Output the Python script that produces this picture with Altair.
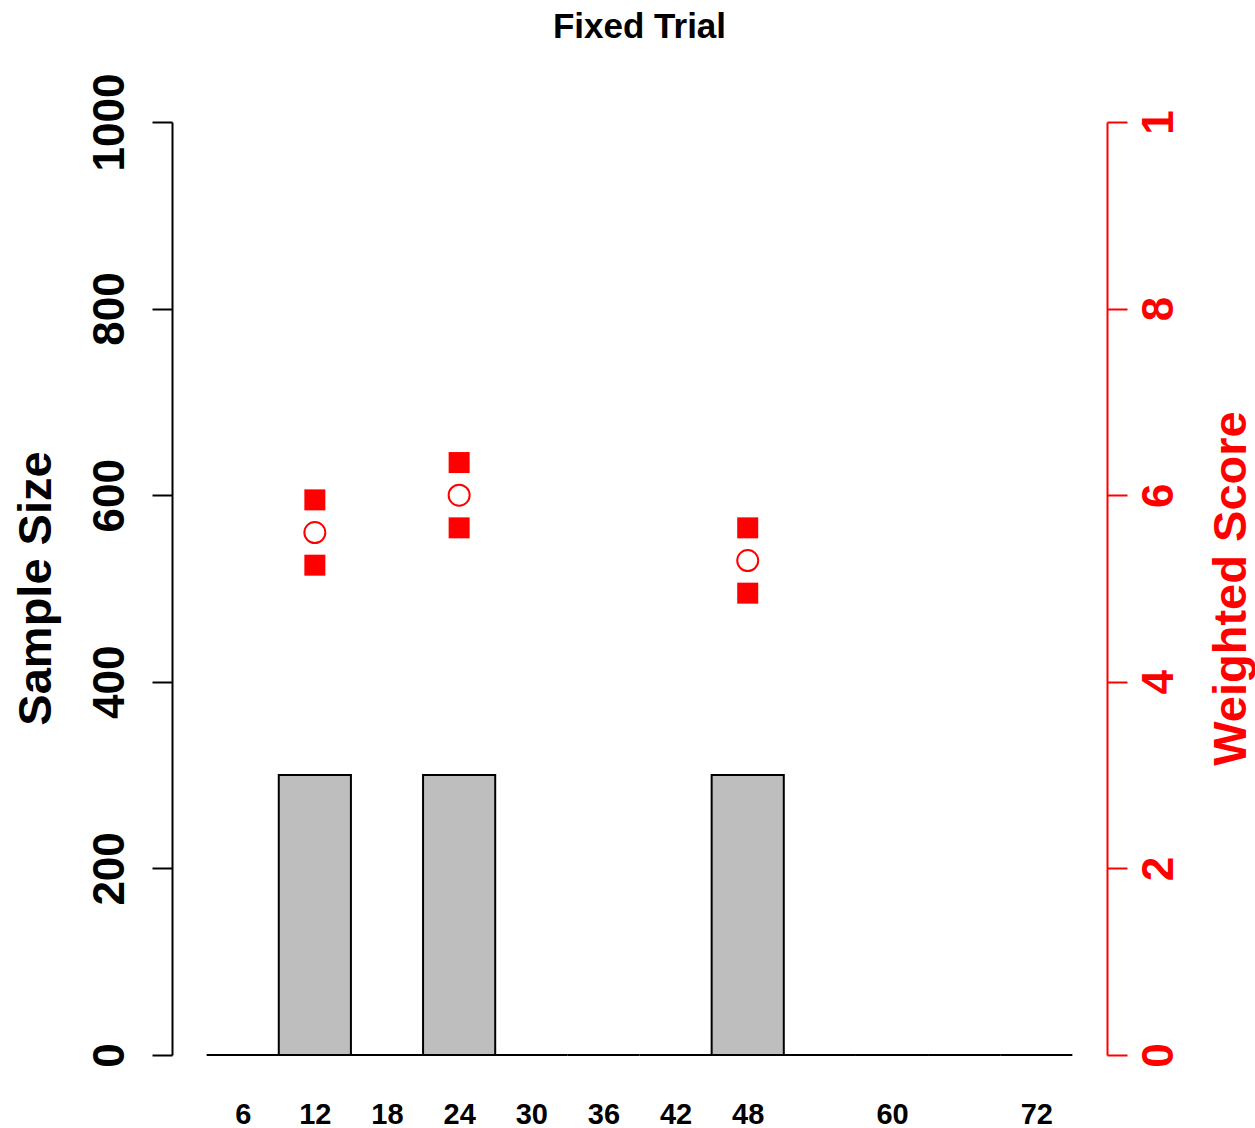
import altair as alt
import pandas as pd

# ---- data ----
months = [6, 12, 18, 24, 30, 36, 42, 48, 54, 60, 66, 72]
sample_size = [0, 300, 0, 300, 0, 0, 0, 300, 0, 0, 0, 0]
x_tick_values = [6, 12, 18, 24, 30, 36, 42, 48, 60, 72]

score_months = [12, 24, 48]
score_mean = [5.6, 6.0, 5.3]
score_lower = [5.25, 5.65, 4.95]
score_upper = [5.95, 6.35, 5.65]

left_ticks = [0, 200, 400, 600, 800, 1000]
right_ticks = [0, 2, 4, 6, 8, 10]
right_tick_labels = ["0", "2", "4", "6", "8", "1"]

FONT = "Liberation Sans"
RED = "#ff0000"

bars_df = pd.DataFrame({"month": months, "n": sample_size})
means_df = pd.DataFrame({"month": score_months, "score": score_mean})
bounds_df = pd.DataFrame({
    "month": score_months + score_months,
    "score": score_lower + score_upper,
})

half = (months[1] - months[0]) / 2
span = (months[-1] + half) - (months[0] - half)
x_domain = [months[0] - half - 0.04 * span, months[-1] + half + 0.04 * span]

x_scale = alt.Scale(domain=x_domain, nice=False, zero=False)
x_axis = alt.Axis(
    values=x_tick_values, format="d", title=None, grid=False, domain=False,
    ticks=False, tickSize=0, labelPadding=68, labelBaseline="alphabetic",
    labelFont=FONT, labelFontSize=29, labelFontWeight="bold", labelColor="black",
)

bars = alt.Chart(bars_df).transform_calculate(
    x1=f"datum.month - {half}", x2=f"datum.month + {half}"
).mark_rect(fill="#bebebe", stroke="black", strokeWidth=2).encode(
    x=alt.X("x1:Q", scale=x_scale, axis=x_axis),
    x2="x2:Q",
    y=alt.Y(
        "n:Q",
        scale=alt.Scale(domain=[0, 1000], nice=False),
        axis=alt.Axis(
            values=left_ticks, format="d", title="Sample Size", grid=False,
            tickSize=20, tickWidth=2, tickColor="black",
            domainWidth=2, domainColor="black",
            labelAngle=270, labelAlign="center", labelBaseline="alphabetic",
            labelPadding=29, labelFont=FONT, labelFontSize=44,
            labelFontWeight="bold", labelColor="black",
            titleFont=FONT, titleFontSize=47, titleFontWeight="bold",
            titleColor="black", titleAngle=270, titleAlign="center",
            titleBaseline="alphabetic", titleX=-122, titleY=466,
        ),
    ),
    y2=alt.datum(0),
)

label_expr = " : ".join(
    [f"datum.value == {v} ? '{l}'" for v, l in zip(right_ticks, right_tick_labels)]
) + " : datum.label"

right_axis = alt.Axis(
    orient="right", values=right_ticks, title="Weighted Score", grid=False,
    tickSize=20, tickWidth=2, tickColor=RED, domainWidth=2, domainColor=RED,
    labelAngle=270, labelAlign="center", labelBaseline="alphabetic",
    labelPadding=45, labelFont=FONT, labelFontSize=44, labelFontWeight="bold",
    labelColor=RED, labelExpr=label_expr,
    titleFont=FONT, titleFontSize=47, titleFontWeight="bold", titleColor=RED,
    titleAngle=270, titleAlign="center", titleBaseline="alphabetic",
    titleX=138, titleY=466,
)
right_scale = alt.Scale(domain=[0, 10], nice=False)

squares = alt.Chart(bounds_df).mark_square(
    color=RED, filled=True, size=441, opacity=1
).encode(
    x=alt.X("month:Q", scale=x_scale, axis=x_axis),
    y=alt.Y("score:Q", scale=right_scale, axis=right_axis),
)
circles = alt.Chart(means_df).mark_point(
    shape="circle", filled=False, color=RED, size=440, strokeWidth=2, opacity=1
).encode(
    x=alt.X("month:Q", scale=x_scale, axis=x_axis),
    y=alt.Y("score:Q", scale=right_scale, axis=right_axis),
)
points = alt.layer(squares, circles)

chart = alt.layer(bars, points).resolve_scale(y="independent").properties(
    width=935,
    height=933,
    background="white",
    autosize=alt.AutoSizeParams(type="none"),
    padding={"left": 172, "top": 122, "right": 148, "bottom": 73},
    title=alt.TitleParams(
        "Fixed Trial", font=FONT, fontSize=35, fontWeight="bold", color="black",
        anchor="middle", frame="group", baseline="alphabetic", offset=0,
    ),
).configure_view(
    stroke="transparent", strokeWidth=0
)

chart.save("out.html", embed_options={"renderer": "svg", "actions": False})
